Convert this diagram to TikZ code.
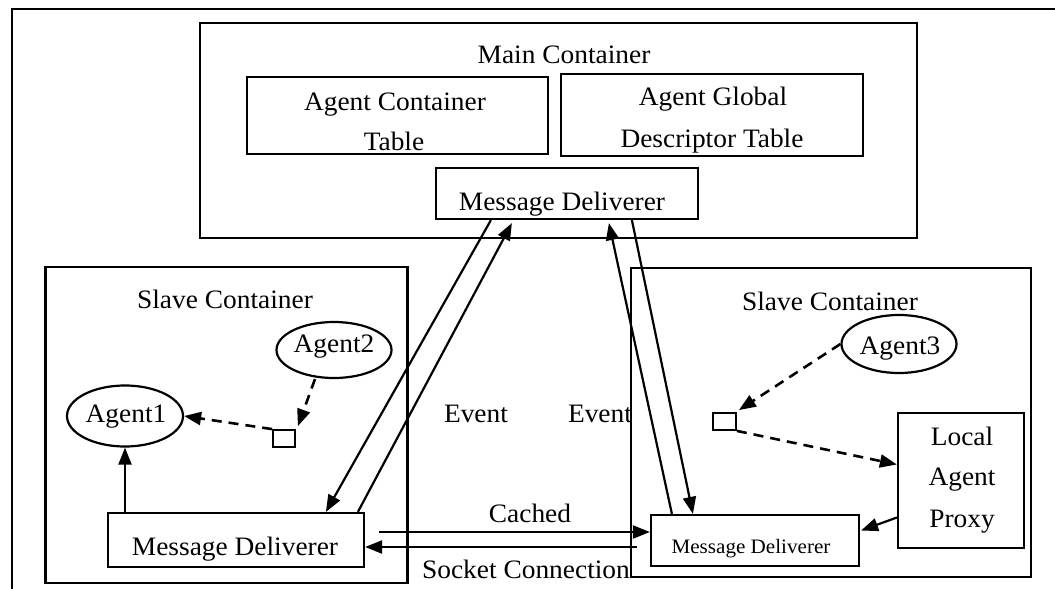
\documentclass[tikz,border=0pt]{standalone}
\usepackage{fontspec}
\setmainfont{Liberation Serif}[FakeStretch=1.03]
\usetikzlibrary{arrows.meta,shapes.geometric,calc}
\begin{document}
\begin{tikzpicture}[x=1pt,y=-1pt,
  box/.style={draw, line width=2.2pt, rectangle, inner sep=0pt},
  agent/.style={draw, line width=2.2pt, ellipse, inner sep=0pt},
  lbl/.style={anchor=base, inner sep=0pt, font=\fontsize{26.6}{30}\selectfont},
  lblsmall/.style={anchor=base, inner sep=0pt, font=\fontsize{20.5}{24}\selectfont},
  link/.style={line width=2.2pt, -{Triangle[length=17pt,width=13pt]}},
  plain/.style={line width=2.2pt},
  weak/.style={link, line width=2.6pt, dash pattern=on 10pt off 7pt},
]
\useasboundingbox (0,0) rectangle (1055,589);

% outer frame (left and top edges only)
\coordinate (fb) at (12,589);
\coordinate (fc) at (12,9);
\coordinate (fr) at (1055,9);
\draw[plain] (fb) -- (fc) -- (fr);

% main container
\node[box, minimum width=717, minimum height=215] (main) at (558.5,130.5) {};
\node[lbl] (maint) at (564,63) {Main Container};
\node[box, minimum width=301, minimum height=77] (act) at (397.5,115.5) {};
\node[lbl] (act1) at (395,110) {Agent Container};
\node[lbl] (act2) at (394,150) {Table};
\node[box, minimum width=302, minimum height=82] (agdt) at (712,115) {};
\node[lbl] (agdt1) at (713,105) {Agent Global};
\node[lbl] (agdt2) at (712,147) {Descriptor Table};
\node[box, minimum width=262, minimum height=51] (mmd) at (567,193.5) {};
\node[lbl] (mmdt) at (562,210) {Message Deliverer};

% left slave container
\node[box, minimum width=362, minimum height=316] (lsc) at (226.5,425) {};
\node[lbl] (lsct) at (225,308) {Slave Container};
\node[agent, minimum width=116, minimum height=61] (a1) at (125,416) {};
\node[lbl] (a1t) at (126,422) {Agent1};
\node[agent, minimum width=115, minimum height=56] (a2) at (334,350) {};
\node[lbl] (a2t) at (334,352) {Agent2};
\node[box, line width=1.8pt, minimum width=22, minimum height=17] (sq1) at (284,438.5) {};
\node[box, minimum width=256, minimum height=54] (lmd) at (236,540) {};
\node[lbl] (lmdt) at (235,555) {Message Deliverer};

% right slave container
\node[box, minimum width=400, minimum height=309] (rsc) at (831,422.5) {};
\node[lbl] (rsct) at (830,310) {Slave Container};
\node[agent, minimum width=115, minimum height=58] (a3) at (899,344) {};
\node[lbl] (a3t) at (900,354) {Agent3};
\node[box, line width=1.8pt, minimum width=23, minimum height=17] (sq2) at (724.5,421.5) {};
\node[box, minimum width=126, minimum height=135] (lap) at (961,480.5) {};
\node[lbl] (lap1) at (962,445) {Local};
\node[lbl] (lap2) at (962,485) {Agent};
\node[lbl] (lap3) at (962,527) {Proxy};
\node[box, minimum width=208, minimum height=51] (rmd) at (755,540.5) {};
\node[lblsmall] (rmdt) at (751,553) {Message Deliverer};

% free labels
\node[lbl] (ev1) at (476,422) {Event};
\node[lbl] (ev2) at (600,422) {Event};
\node[lbl] (cach) at (530,522) {Cached};
\node[lbl] (sock) at (526,578) {Socket Connection};

% event links between the message deliverers
\coordinate (pA) at ($(mmd.south west)+(56,0)$);
\coordinate (qA) at ($(lmd.north west)+(219,0)$);
\coordinate (pB) at ($(mmd.south west)+(77,3)$);
\coordinate (qB) at ($(lmd.north west)+(251,0)$);
\coordinate (pC) at ($(mmd.south west)+(174,3)$);
\coordinate (qC) at ($(rmd.north west)+(22,0)$);
\coordinate (pD) at ($(mmd.south west)+(197,0)$);
\coordinate (qD) at ($(rmd.north west)+(43,0)$);
\draw[link] (pA) -- (qA);
\draw[link] (qB) -- (pB);
\draw[link] (qC) -- (pC);
\draw[link] (pD) -- (qD);

% socket connection between the slave deliverers
\coordinate (cs) at ($(lmd.east)+(14,-8)$);
\coordinate (ce) at (rmd.west |- cs);
\coordinate (ss) at (637,547);
\coordinate (se) at (lmd.east |- ss);
\draw[link] (cs) -- (ce);
\draw[link] (ss) -- (se);

% local links inside the slave containers
\draw[link] (lmd.north -| a1.south) -- (a1.south);
\coordinate (a2b) at ($(a2.south)+(-19,0)$);
\draw[weak] (a2b) -- ($(sq1.north east)+(2,-3)$);
\draw[weak] (sq1.north west) -- (a1.east);
\draw[weak] (a3.west) -- ($(sq2.north east)+(2,-2)$);
\draw[weak] (sq2.south east) -- ($(lap.west)+(0,-16)$);
\draw[link] ($(lap.west)+(0,37)$) -- ($(rmd.east)+(1,-10)$);
\end{tikzpicture}
\end{document}
